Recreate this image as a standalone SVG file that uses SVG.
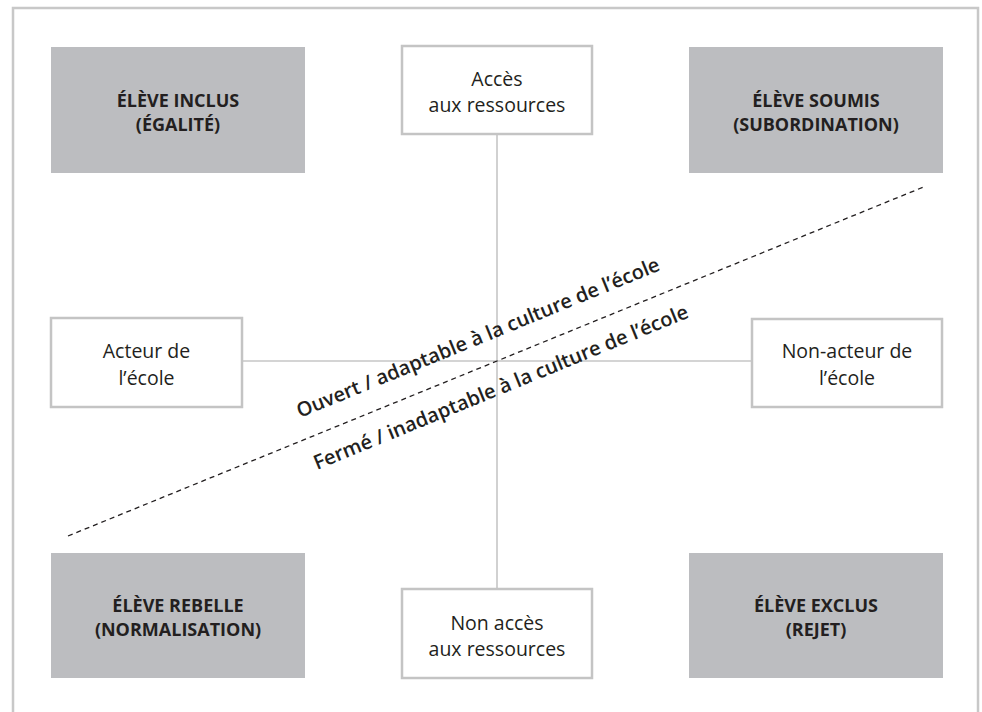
<svg xmlns="http://www.w3.org/2000/svg" width="982" height="712" viewBox="0 0 982 712">
<style>
.frame{fill:none;stroke:#c8c8c8;stroke-width:2.5}
.axis{stroke:#c6c6c6;stroke-width:1.6;fill:none}
.gbox{fill:#bcbdc0}
.wbox{fill:#fff;stroke:#c4c4c4;stroke-width:2.5}
.bt{font-family:"Open Sans","Noto Sans",sans-serif;font-weight:700;font-size:18px;fill:#231f20;text-anchor:middle}
.rt{font-family:"Open Sans","Noto Sans",sans-serif;font-size:19.5px;fill:#231f20;text-anchor:middle}
.dt{font-family:"Open Sans","Noto Sans",sans-serif;font-weight:600;font-size:20px;fill:#231f20}
.dash{stroke:#231f20;stroke-width:1.3;stroke-dasharray:5 4;fill:none}
</style>
<rect width="982" height="712" fill="#fff"/>
<rect class="frame" x="13" y="8" width="965" height="730"/>
<g id="connectors">
<line class="axis" x1="497" y1="134" x2="497" y2="589"/>
<line class="axis" x1="242" y1="361" x2="752" y2="361"/>
<line class="dash" x1="68" y1="536" x2="926" y2="186"/>
</g>
<g id="eleve-inclus">
<rect class="gbox" x="51" y="47" width="254" height="126"/>
<text class="bt" x="178" y="107">ÉLÈVE INCLUS</text>
<text class="bt" x="178" y="131">(ÉGALITÉ)</text>
</g>
<g id="eleve-soumis">
<rect class="gbox" x="689" y="47" width="254" height="126"/>
<text class="bt" x="816" y="107">ÉLÈVE SOUMIS</text>
<text class="bt" x="816" y="131">(SUBORDINATION)</text>
</g>
<g id="eleve-rebelle">
<rect class="gbox" x="51" y="553" width="254" height="125"/>
<text class="bt" x="178" y="612">ÉLÈVE REBELLE</text>
<text class="bt" x="178" y="636">(NORMALISATION)</text>
</g>
<g id="eleve-exclus">
<rect class="gbox" x="689" y="553" width="254" height="125"/>
<text class="bt" x="816" y="612">ÉLÈVE EXCLUS</text>
<text class="bt" x="816" y="636">(REJET)</text>
</g>
<g id="acces">
<rect class="wbox" x="402" y="46" width="190" height="88"/>
<text class="rt" x="497" y="86">Accès</text>
<text class="rt" x="497" y="112">aux ressources</text>
</g>
<g id="non-acces">
<rect class="wbox" x="402" y="589" width="190" height="89"/>
<text class="rt" x="497" y="630">Non accès</text>
<text class="rt" x="497" y="656">aux ressources</text>
</g>
<g id="acteur">
<rect class="wbox" x="51" y="318" width="191" height="89"/>
<text class="rt" x="146.5" y="358">Acteur de</text>
<text class="rt" x="146.5" y="385">l’école</text>
</g>
<g id="non-acteur">
<rect class="wbox" x="752" y="319" width="190" height="88"/>
<text class="rt" x="847" y="358">Non-acteur de</text>
<text class="rt" x="847" y="385">l’école</text>
</g>
<g id="diagonal-labels">
<text class="dt" transform="translate(300,418) rotate(-22.3)">Ouvert / adaptable à la culture de l’école</text>
<text class="dt" transform="translate(317,470) rotate(-22.3)">Fermé / inadaptable à la culture de l’école</text>
</g>
</svg>
